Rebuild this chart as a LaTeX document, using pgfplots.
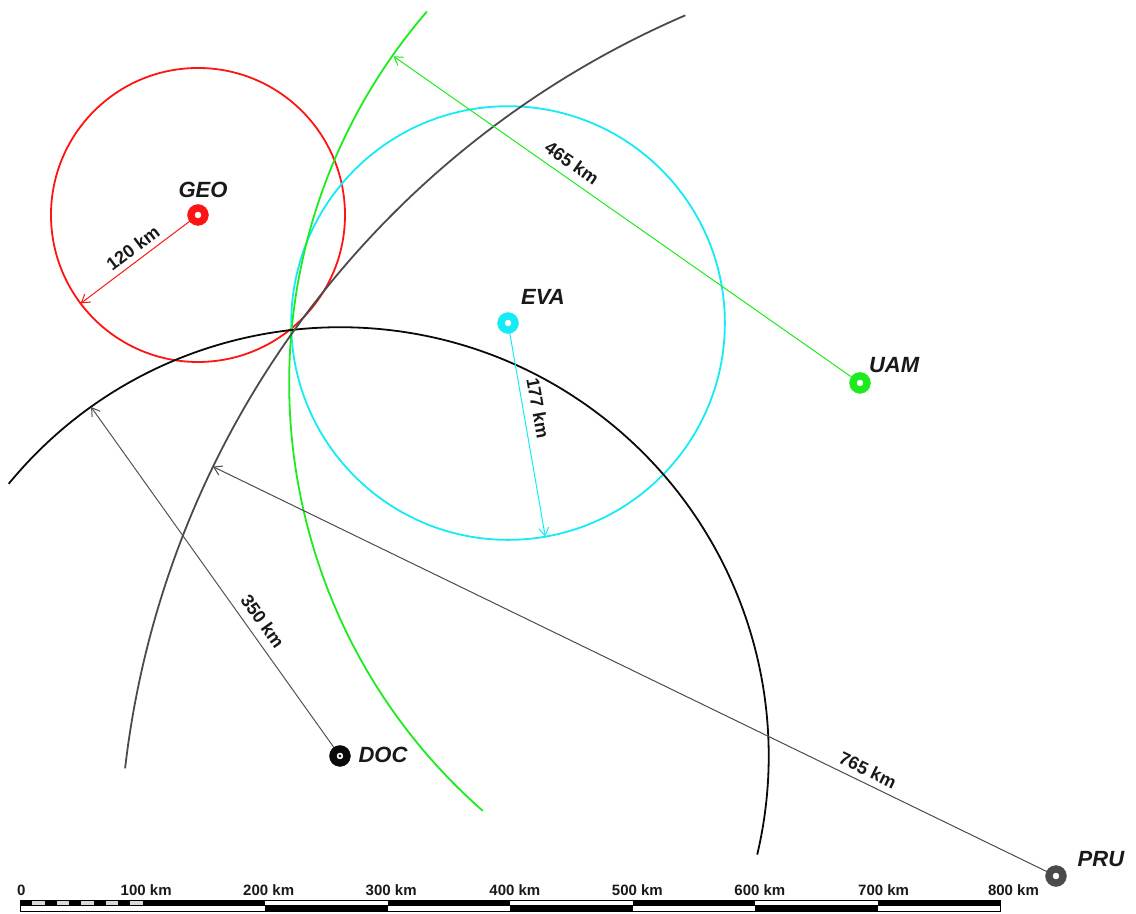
\documentclass[border=0pt]{standalone}
\usepackage{pgfplots}
\pgfplotsset{compat=1.18}
\usepackage{fontspec}
\setmainfont{Liberation Sans}
\usetikzlibrary{arrows.meta}
\definecolor{cRed}{RGB}{255,20,20}
\definecolor{cCyan}{RGB}{20,235,245}
\definecolor{cGreen}{RGB}{30,235,30}
\definecolor{cGray}{RGB}{75,75,75}
\definecolor{cDoc}{RGB}{10,10,10}
\begin{document}
\begin{tikzpicture}
% 1 km = 1.225 pt ; coordinates in km
\begin{axis}[scale only axis, width=1136pt, height=913pt,
  xmin=-16.3265, xmax=911.0204, ymin=0, ymax=745.3061,
  hide axis, clip=false]
\path (rel axis cs:0,0) rectangle (rel axis cs:1,1);
% circles (radius km * 1.225 pt)
\draw[cRed, line width=1.8pt] (axis cs:145.3,569.8) circle[radius=147pt];
\draw[cCyan, line width=1.8pt] (axis cs:398.4,481.6) circle[radius=216.825pt];
\draw[cGreen, line width=1.8pt] (axis cs:684.7,432.7) ++(139.3:569.625pt) arc[start angle=139.3, end angle=228.7, radius=569.625pt];
\draw[cDoc, line width=1.8pt] (axis cs:261.2,128.2) ++(140.6:428.75pt) arc[start angle=140.6, end angle=-13.3, radius=428.75pt];
\draw[cGray, line width=1.8pt] (axis cs:845.7,30.2) ++(113.3:937.125pt) arc[start angle=113.3, end angle=173.4, radius=937.125pt];
% radius lines
\addplot[cRed, line width=1pt, -{Straight Barb[length=8pt,width=10pt]}] coordinates {(145.3,569.8) (49.5,497.6)};
\addplot[cCyan, line width=1pt, -{Straight Barb[length=8pt,width=10pt]}] coordinates {(398.4,481.6) (428.8,307.2)};
\addplot[cGreen, line width=1pt, -{Straight Barb[length=8pt,width=10pt]}] coordinates {(685.7,432.7) (304.8,699.4)};
\addplot[cDoc!70, line width=1pt, -{Straight Barb[length=8pt,width=10pt]}] coordinates {(261.2,128.2) (58.0,413.1)};
\addplot[cGray, line width=1pt, -{Straight Barb[length=8pt,width=10pt]}] coordinates {(845.7,30.2) (157.5,364.4)};
% stations
\addplot[only marks, mark=*, mark size=10.5pt, cRed] coordinates {(145.3,569.8)};
\addplot[only marks, mark=*, mark size=10.5pt, cCyan] coordinates {(398.4,481.6)};
\addplot[only marks, mark=*, mark size=10.5pt, cGreen] coordinates {(685.7,432.7)};
\addplot[only marks, mark=*, mark size=10.5pt, cDoc] coordinates {(261.2,128.2)};
\addplot[only marks, mark=*, mark size=10.5pt, cGray] coordinates {(845.7,30.2)};
\addplot[only marks, mark=*, mark size=3pt, white] coordinates {(145.3,569.8) (398.4,481.6) (685.7,432.7) (261.2,128.2) (845.7,30.2)};
\addplot[only marks, mark=*, mark size=1.2pt, black] coordinates {(261.2,128.2)};
% station names
\begin{scope}[every node/.style={font=\fontsize{22}{26}\selectfont\bfseries\itshape, text=black!90}]
\node at (axis cs:149.4,590.2) {GEO};
\node at (axis cs:426.9,502.9) {EVA};
\node at (axis cs:713.5,447.3) {UAM};
\node at (axis cs:296.3,129.0) {DOC};
\node at (axis cs:882.4,44.1) {PRU};
\end{scope}
% distance labels
\begin{scope}[every node/.style={font=\fontsize{18}{21}\selectfont\bfseries, text=black!90, inner sep=1pt}]
\node[rotate=37] at (axis cs:92.2,542.9) {120 km};
\node[rotate=-80] at (axis cs:423.0,412.2) {177 km};
\node[rotate=-35] at (axis cs:450.6,612.2) {465 km};
\node[rotate=-54.5] at (axis cs:198.2,238.2) {350 km};
\node[rotate=-25.9] at (axis cs:692.2,116.7) {765 km};
\end{scope}
% scale bar
\fill[black] (axis cs:0,6.1) rectangle (axis cs:10,10.6);
\fill[black] (axis cs:20,6.1) rectangle (axis cs:30,10.6);
\fill[black] (axis cs:40,6.1) rectangle (axis cs:50,10.6);
\fill[black] (axis cs:60,6.1) rectangle (axis cs:70,10.6);
\fill[black] (axis cs:80,6.1) rectangle (axis cs:90,10.6);
\fill[black!15] (axis cs:10,6.9) rectangle (axis cs:20,9.8);
\fill[black!15] (axis cs:30,6.9) rectangle (axis cs:40,9.8);
\fill[black!15] (axis cs:50,6.9) rectangle (axis cs:60,9.8);
\fill[black!15] (axis cs:70,6.9) rectangle (axis cs:80,9.8);
\fill[black!15] (axis cs:90,6.9) rectangle (axis cs:100,9.8);
\fill[black] (axis cs:100,6.1) rectangle (axis cs:200,10.6);
\fill[black] (axis cs:200,1.6) rectangle (axis cs:300,6.1);
\fill[black] (axis cs:300,6.1) rectangle (axis cs:400,10.6);
\fill[black] (axis cs:400,1.6) rectangle (axis cs:500,6.1);
\fill[black] (axis cs:500,6.1) rectangle (axis cs:600,10.6);
\fill[black] (axis cs:600,1.6) rectangle (axis cs:700,6.1);
\fill[black] (axis cs:700,6.1) rectangle (axis cs:800,10.6);
\draw[black, line width=0.8pt] (axis cs:0,1.6) rectangle (axis cs:800,10.6);
\draw[black, line width=0.6pt] (axis cs:0,6.1) -- (axis cs:800,6.1);
\begin{scope}[every node/.style={font=\fontsize{15}{18}\selectfont\bfseries, text=black!90, anchor=base}]
\node at (axis cs:1,14.7) {0};
\node at (axis cs:103,14.7) {100 km};
\node at (axis cs:203,14.7) {200 km};
\node at (axis cs:303,14.7) {300 km};
\node at (axis cs:404,14.7) {400 km};
\node at (axis cs:504,14.7) {500 km};
\node at (axis cs:604,14.7) {600 km};
\node at (axis cs:705,14.7) {700 km};
\node at (axis cs:811,14.7) {800 km};
\end{scope}
\end{axis}
\end{tikzpicture}
\end{document}
